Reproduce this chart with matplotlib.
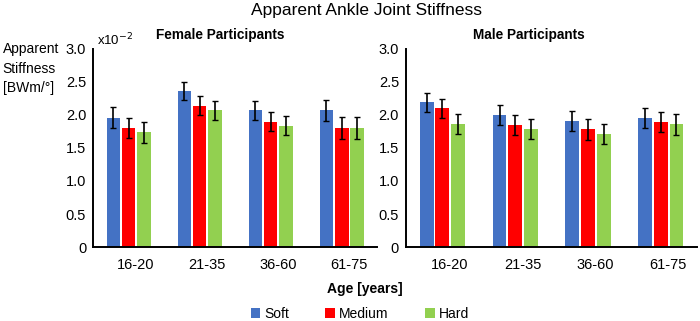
import matplotlib
import matplotlib.pyplot as plt
import numpy as np

matplotlib.use("Agg")

plt.rcParams['font.family'] = ['Liberation Sans', 'DejaVu Sans']

# data (values in units of 1e-2 BWm/deg)
age_groups = ['16-20', '21-35', '36-60', '61-75']
conditions = ['Soft', 'Medium', 'Hard']
colors = ['#4472C4', '#FF0000', '#92D050']

female_soft = [1.96, 2.36, 2.07, 2.07]
female_medium = [1.80, 2.14, 1.90, 1.80]
female_hard = [1.74, 2.07, 1.84, 1.80]
female_soft_err = [0.16, 0.14, 0.14, 0.16]
female_medium_err = [0.15, 0.14, 0.15, 0.17]
female_hard_err = [0.16, 0.14, 0.15, 0.17]

male_soft = [2.19, 2.00, 1.91, 1.96]
male_medium = [2.10, 1.85, 1.78, 1.89]
male_hard = [1.86, 1.79, 1.71, 1.86]
male_soft_err = [0.14, 0.15, 0.15, 0.15]
male_medium_err = [0.14, 0.15, 0.16, 0.15]
male_hard_err = [0.15, 0.15, 0.15, 0.16]

y_ticks = [0, 0.5, 1.0, 1.5, 2.0, 2.5, 3.0]
y_tick_labels = ['0', '0.5', '1.0', '1.5', '2.0', '2.5', '3.0']


def draw_panel(ax, series, errors):
    x = np.arange(len(age_groups))
    width = 0.19
    step = 0.215
    for i, (vals, errs) in enumerate(zip(series, errors)):
        ax.bar(x + (i - 1) * step, vals, width, color=colors[i], label=conditions[i],
               yerr=errs, capsize=2.2, error_kw=dict(elinewidth=1.2, capthick=1.0, ecolor='black'))
    ax.set_xlim(-0.5, 3.5)
    ax.set_ylim(0, 3.0)
    ax.set_yticks(y_ticks)
    ax.set_yticklabels(y_tick_labels)
    ax.set_xticks(x + 0.1)
    ax.set_xticklabels(age_groups)
    ax.tick_params(length=0, labelsize=10.5, pad=5)
    ax.tick_params(axis='x', pad=8)
    for s in ['top', 'right']:
        ax.spines[s].set_visible(False)
    for s in ['left', 'bottom']:
        ax.spines[s].set_linewidth(1.4)


fig = plt.figure(figsize=(7, 3.21), dpi=100)
ax1 = fig.add_axes([0.133, 0.2305, 0.406, 0.617])
ax2 = fig.add_axes([0.58, 0.2305, 0.416, 0.617])

draw_panel(ax1, [female_soft, female_medium, female_hard],
           [female_soft_err, female_medium_err, female_hard_err])
draw_panel(ax2, [male_soft, male_medium, male_hard],
           [male_soft_err, male_medium_err, male_hard_err])

fig.text(0.523, 0.966, 'Apparent Ankle Joint Stiffness', ha='center', va='center', fontsize=12.5)
fig.text(0.314, 0.891, 'Female Participants', ha='center', va='center', fontsize=9.8,
         fontweight='bold')
fig.text(0.756, 0.891, 'Male Participants', ha='center', va='center', fontsize=9.8,
         fontweight='bold')
fig.text(0.004, 0.868, 'Apparent\nStiffness\n[BWm/°]', ha='left', va='top', fontsize=10,
         linespacing=1.5)
fig.text(0.138, 0.876, r'x10$^{-2}$', ha='left', va='center', fontsize=9.5)
fig.text(0.521, 0.1, 'Age [years]', ha='center', va='center', fontsize=10, fontweight='bold')

handles, labels = ax1.get_legend_handles_labels()
fig.legend(handles, labels, loc='center', bbox_to_anchor=(0.514, 0.022), ncol=3, frameon=False,
           fontsize=10, handlelength=0.7, handleheight=0.7, handletextpad=0.3, columnspacing=2.6)

fig.savefig('out.png', dpi=100)
